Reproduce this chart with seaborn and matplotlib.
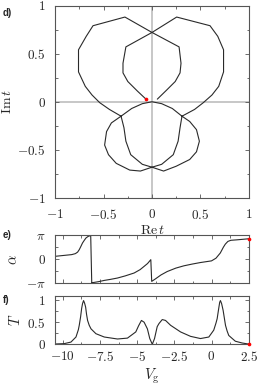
import numpy as np
import pandas as pd
import matplotlib
matplotlib.use("Agg")
import matplotlib.pyplot as plt
import seaborn as sns
from matplotlib.ticker import MultipleLocator, FixedLocator, FixedFormatter

# ---- panel d) : complex transmission t (Re t, Im t), ordered by increasing Vg
re_t = [0.055, 0.15, 0.24, 0.29, 0.30, 0.28, 0.0, -0.28, -0.61, -0.68, -0.76, -0.76,
        -0.69, -0.62, -0.54, -0.44, -0.32, -0.29, -0.27, -0.22, -0.10, 0.0, 0.12,
        0.25, 0.39, 0.46, 0.49, 0.46, 0.39, 0.31, 0.21, 0.10, 0.0,
        -0.10, -0.21, -0.32, -0.42, -0.47, -0.49, -0.45, -0.37, -0.23, -0.12, 0.0,
        0.10, 0.22, 0.27, 0.29, 0.31, 0.44, 0.53, 0.62, 0.69, 0.74, 0.74, 0.68,
        0.60, 0.255, 0.0, -0.27, -0.30, -0.30, -0.25, -0.15, -0.06]
im_t = [0.027, 0.12, 0.21, 0.30, 0.40, 0.57, 0.72, 0.88, 0.79, 0.68, 0.54, 0.31,
        0.16, 0.07, -0.01, -0.08, -0.15, -0.27, -0.41, -0.55, -0.65, -0.68, -0.72,
        -0.67, -0.60, -0.52, -0.41, -0.29, -0.205, -0.15, -0.07, -0.02, 0.0,
        -0.02, -0.07, -0.15, -0.22, -0.31, -0.45, -0.55, -0.64, -0.71, -0.72, -0.68,
        -0.65, -0.55, -0.41, -0.27, -0.15, -0.08, -0.01, 0.07, 0.16, 0.31, 0.54, 0.68,
        0.79, 0.88, 0.72, 0.57, 0.40, 0.30, 0.21, 0.11, 0.025]

# ---- panel e) : phase alpha vs gate voltage
vg_alpha = [-10.5, -9.9, -9.4, -9.15, -9.0, -8.89, -8.78, -8.67, -8.55, -8.44,
            -8.3, -8.12, -8.05, -8.0, -7.6, -7.2, -6.8, -6.32, -5.8, -5.2,
            -4.8, -4.53, -4.3, -4.08, -4.02, -3.76, -3.4, -2.98, -2.4, -1.86,
            -1.3, -0.75, 0.0, 0.3, 0.59, 0.8, 0.93, 1.1, 1.3, 1.71, 2.5]
alpha = [0.40, 0.52, 0.62, 0.75, 0.95, 1.27, 1.70, 2.15, 2.50, 2.80,
         3.00, 3.14, -3.11, -3.06, -2.93, -2.76, -2.63, -2.45, -2.17, -1.79,
         -1.35, -0.92, -0.55, -0.04, -2.89, -2.55, -2.05, -1.60, -1.15, -0.85,
         -0.62, -0.42, -0.20, 0.15, 0.83, 1.60, 2.00, 2.35, 2.50, 2.56, 2.70]

# ---- panel f) : transmission probability T vs gate voltage
vg_T = [-10.5, -9.9, -9.45, -9.11, -8.95, -8.89, -8.8, -8.73, -8.67, -8.6,
        -8.53, -8.46, -8.4, -8.33, -8.22, -8.1, -7.77, -7.21, -6.32, -5.65,
        -5.09, -4.9, -4.71, -4.53, -4.31, -4.15, -3.98, -3.83, -3.65, -3.53,
        -3.31, -3.09, -2.75, -2.08, -1.41, -0.74, -0.18, 0.15, 0.3, 0.38,
        0.47, 0.55, 0.6, 0.68, 0.78, 0.86, 0.94, 1.05, 1.16, 1.6, 2.05, 2.5]
T = [0.007, 0.015, 0.05, 0.165, 0.33, 0.43, 0.62, 0.81, 0.92, 0.99,
     0.93, 0.84, 0.68, 0.54, 0.43, 0.35, 0.24, 0.165, 0.12, 0.14,
     0.28, 0.42, 0.54, 0.50, 0.35, 0.13, 0.0, 0.13, 0.40, 0.47,
     0.56, 0.54, 0.43, 0.28, 0.18, 0.13, 0.165, 0.32, 0.48, 0.58,
     0.78, 0.95, 0.99, 0.92, 0.77, 0.60, 0.43, 0.30, 0.20, 0.07, 0.03, 0.005]

xticks_t = [-1, -0.5, 0, 0.5, 1]
xticklabels_t = [r"$-1$", r"$-0.5$", r"$0$", r"$0.5$", r"$1$"]
alpha_ticks = [-np.pi, 0, np.pi]
alpha_ticklabels = [r"$-\pi$", r"$0$", r"$\pi$"]
T_ticks = [0, 0.5, 1]
T_ticklabels = [r"$0$", r"$0.5$", r"$1$"]
vg_ticks = [-10, -7.5, -5, -2.5, 0, 2.5]
vg_ticklabels = [r"$-10$", r"$-7.5$", r"$-5$", r"$-2.5$", r"$0$", r"$2.5$"]

sns.set_theme(style="ticks")
plt.rcParams["font.family"] = ["DejaVu Sans"]
plt.rcParams["mathtext.fontset"] = "cm"

LINE = "#2a2a2a"
SPINE = "#555555"
FS = 9.5

W, H = 258, 385
fig = plt.figure(figsize=(W / 100, H / 100), dpi=100)

def ax_px(left, top, right, bottom):
    return fig.add_axes([left / W, 1 - bottom / H, (right - left) / W, (bottom - top) / H])

ax1 = ax_px(55.3, 5.5, 248.7, 198.0)
ax2 = ax_px(55.3, 235.4, 248.7, 283.3)
ax3 = ax_px(55.3, 295.7, 248.7, 344.3)

def style(ax):
    for s in ax.spines.values():
        s.set_color(SPINE)
        s.set_linewidth(0.8)
    ax.tick_params(which="both", direction="in", top=True, right=True,
                   color=SPINE, width=0.6, labelsize=FS)
    ax.tick_params(which="major", length=3.0)
    ax.tick_params(which="minor", length=1.8)

# panel d
ax1.axhline(0, color="#bdbdbd", lw=1.2, zorder=0)
ax1.axvline(0, color="#bdbdbd", lw=1.2, zorder=0)
sns.lineplot(x=re_t, y=im_t, sort=False, estimator=None, ax=ax1, color=LINE, lw=0.8)
ax1.scatter([re_t[-1]], [im_t[-1]], s=7, color="red", zorder=5, linewidths=0)
ax1.set_xlim(-1, 1)
ax1.set_ylim(-1, 1)
style(ax1)
ax1.xaxis.set_major_locator(FixedLocator(xticks_t))
ax1.xaxis.set_major_formatter(FixedFormatter(xticklabels_t))
ax1.yaxis.set_major_locator(FixedLocator(xticks_t))
ax1.yaxis.set_major_formatter(FixedFormatter(xticklabels_t))
ax1.xaxis.set_minor_locator(MultipleLocator(0.25))
ax1.yaxis.set_minor_locator(MultipleLocator(0.25))
ax1.tick_params(axis="x", pad=7)
ax1.tick_params(axis="y", pad=7)
ax1.set_xlabel(r"$\mathrm{Re}\,t$", fontsize=FS + 0.5, labelpad=1)
ax1.set_ylabel(r"$\mathrm{Im}\,t$", fontsize=FS + 0.5, labelpad=2)

# panel e
sns.lineplot(x=vg_alpha, y=alpha, sort=False, estimator=None, ax=ax2, color=LINE, lw=0.8)
ax2.scatter([vg_alpha[-1]], [alpha[-1]], s=7, color="red", zorder=5, linewidths=0, clip_on=False)
ax2.set_xlim(-10.5, 2.5)
ax2.set_ylim(-np.pi, np.pi)
style(ax2)
ax2.yaxis.set_major_locator(FixedLocator(alpha_ticks))
ax2.yaxis.set_major_formatter(FixedFormatter(alpha_ticklabels))
ax2.yaxis.set_minor_locator(FixedLocator([-np.pi / 2, np.pi / 2]))
ax2.xaxis.set_major_locator(FixedLocator(vg_ticks))
ax2.xaxis.set_minor_locator(MultipleLocator(1.25))
ax2.tick_params(axis="x", labelbottom=False)
ax2.tick_params(axis="y", pad=7)
ax2.set_ylabel(r"$\alpha$", fontsize=FS + 1, labelpad=4)

# panel f
sns.lineplot(x=vg_T, y=T, sort=False, estimator=None, ax=ax3, color=LINE, lw=0.8)
ax3.scatter([vg_T[-1]], [T[-1]], s=7, color="red", zorder=5, linewidths=0, clip_on=False)
ax3.set_xlim(-10.5, 2.5)
ax3.set_ylim(0, 1.1)
style(ax3)
ax3.yaxis.set_major_locator(FixedLocator(T_ticks))
ax3.yaxis.set_major_formatter(FixedFormatter(T_ticklabels))
ax3.yaxis.set_minor_locator(FixedLocator([0.25, 0.75]))
ax3.xaxis.set_major_locator(FixedLocator(vg_ticks))
ax3.xaxis.set_major_formatter(FixedFormatter(vg_ticklabels))
ax3.xaxis.set_minor_locator(MultipleLocator(1.25))
ax3.tick_params(axis="x", pad=4)
ax3.tick_params(axis="y", pad=7)
ax3.set_xlabel(r"$V_\mathrm{g}$", fontsize=FS + 1, labelpad=2)
ax3.set_ylabel(r"$T$", fontsize=FS + 1, labelpad=3)

for txt, ypx in [("d)", 12.5), ("e)", 235), ("f)", 300)]:
    fig.text(3 / W, 1 - ypx / H, txt, fontsize=7, fontweight="bold",
             family="Liberation Sans", va="center", ha="left")

fig.savefig("out.png", dpi=100)
